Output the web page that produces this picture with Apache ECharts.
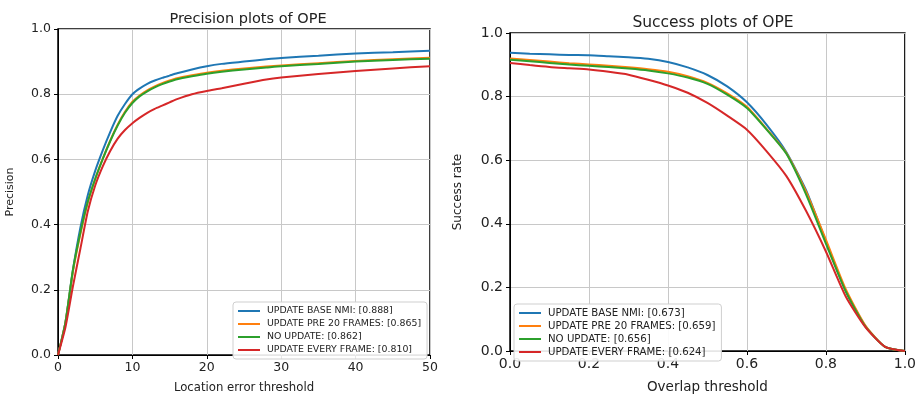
<!DOCTYPE html>
<html>
<head>
<meta charset="utf-8">
<script src="https://cdn.jsdelivr.net/npm/echarts@6/dist/echarts.min.js"></script>
<style>
html, body { margin: 0; padding: 0; background: #fff; }
#chart { width: 919px; height: 399px; }
</style>
</head>
<body>
<div id="chart"></div>
<script>
// precision plot: location error threshold (pixels)
var precThresholds = [0, 1, 2, 3, 4, 5, 6, 7, 8, 9, 10, 11, 12, 13, 14, 15, 16, 18, 20, 22, 25, 28, 30, 35, 40, 45, 50];
var precBaseNmi   = [0, 0.10, 0.26, 0.39, 0.49, 0.565, 0.627, 0.683, 0.733, 0.77, 0.80, 0.818, 0.832, 0.842, 0.85, 0.857, 0.864, 0.876, 0.886, 0.893, 0.90, 0.907, 0.911, 0.918, 0.925, 0.929, 0.933];
var precPre20     = [0, 0.10, 0.255, 0.37, 0.468, 0.54, 0.602, 0.657, 0.706, 0.746, 0.777, 0.797, 0.812, 0.824, 0.834, 0.842, 0.849, 0.858, 0.866, 0.872, 0.879, 0.885, 0.888, 0.895, 0.902, 0.907, 0.912];
var precNoUpdate  = [0, 0.10, 0.26, 0.375, 0.47, 0.54, 0.60, 0.655, 0.703, 0.743, 0.773, 0.794, 0.809, 0.821, 0.831, 0.839, 0.846, 0.855, 0.863, 0.869, 0.876, 0.882, 0.886, 0.893, 0.90, 0.905, 0.909];
var precEvery     = [0, 0.085, 0.21, 0.325, 0.44, 0.52, 0.578, 0.625, 0.663, 0.69, 0.711, 0.728, 0.743, 0.755, 0.765, 0.775, 0.785, 0.80, 0.81, 0.818, 0.832, 0.845, 0.851, 0.862, 0.871, 0.879, 0.886];

// success plot: overlap threshold
var succThresholds = [0, 0.05, 0.1, 0.15, 0.2, 0.25, 0.3, 0.35, 0.4, 0.45, 0.5, 0.55, 0.6, 0.65, 0.7, 0.75, 0.8, 0.85, 0.9, 0.95, 1.0];
var succBaseNmi   = [0.938, 0.935, 0.933, 0.931, 0.930, 0.927, 0.924, 0.919, 0.909, 0.892, 0.868, 0.832, 0.782, 0.711, 0.625, 0.505, 0.345, 0.19, 0.078, 0.013, 0];
var succPre20     = [0.920, 0.915, 0.910, 0.905, 0.901, 0.897, 0.892, 0.886, 0.878, 0.864, 0.843, 0.81, 0.768, 0.698, 0.622, 0.50, 0.35, 0.195, 0.08, 0.013, 0];
var succNoUpdate  = [0.916, 0.911, 0.906, 0.901, 0.897, 0.893, 0.888, 0.882, 0.873, 0.860, 0.840, 0.806, 0.764, 0.696, 0.620, 0.492, 0.338, 0.188, 0.077, 0.013, 0];
var succEvery     = [0.906, 0.899, 0.893, 0.889, 0.885, 0.878, 0.869, 0.853, 0.835, 0.812, 0.78, 0.74, 0.696, 0.628, 0.55, 0.44, 0.313, 0.172, 0.075, 0.013, 0];

var precNames = ['UPDATE BASE NMI: [0.888]', 'UPDATE PRE 20 FRAMES: [0.865]', 'NO UPDATE: [0.862]', 'UPDATE EVERY FRAME: [0.810]'];
var succNames = ['UPDATE BASE NMI: [0.673]', 'UPDATE PRE 20 FRAMES: [0.659]', 'NO UPDATE: [0.656]', 'UPDATE EVERY FRAME: [0.624]'];
var colors = ['#1f77b4', '#ff7f0e', '#2ca02c', '#d62728'];

var FONT = 'DejaVu Sans';

function pairs(xs, ys) {
    return xs.map(function (x, i) { return [x, ys[i]]; });
}

function makeSeries(names, xs, lists, idx) {
    return names.map(function (n, i) {
        return {
            name: n,
            type: 'line',
            xAxisIndex: idx,
            yAxisIndex: idx,
            data: pairs(xs, lists[i]),
            symbol: 'none',
            smooth: 0.2,
            color: colors[i],
            lineStyle: { width: 2, color: colors[i] },
            z: 3 + i
        };
    });
}

function xAxis(idx, max, interval, name, gap, size, nameSize, fmt) {
    return {
        type: 'value', gridIndex: idx, min: 0, max: max, interval: interval,
        name: name, nameLocation: 'middle', nameGap: gap,
        nameTextStyle: { fontFamily: FONT, fontSize: nameSize, color: '#222' },
        axisLine: { show: true, lineStyle: { color: '#000', width: 1 } },
        axisTick: { show: true, length: 4, lineStyle: { color: '#000' } },
        axisLabel: { fontFamily: FONT, fontSize: size, color: '#222', margin: 6, formatter: fmt },
        splitLine: { show: true, lineStyle: { color: '#c8c8c8', width: 1 } }
    };
}

function yAxis(idx, name, gap, size, nameSize) {
    return {
        type: 'value', gridIndex: idx, min: 0, max: 1, interval: 0.2,
        name: name, nameLocation: 'middle', nameGap: gap,
        nameTextStyle: { fontFamily: FONT, fontSize: nameSize, color: '#222' },
        axisLine: { show: true, lineStyle: { color: '#000', width: 1 } },
        axisTick: { show: true, length: 4, lineStyle: { color: '#000' } },
        axisLabel: { fontFamily: FONT, fontSize: size, color: '#222', margin: 7,
            formatter: function (v) { return v.toFixed(1); } },
        splitLine: { show: true, lineStyle: { color: '#c8c8c8', width: 1 } }
    };
}

function legend(names, left, top, size) {
    return {
        data: names, orient: 'vertical', left: left, top: top,
        itemGap: 3, itemWidth: 22, itemHeight: 2, icon: 'rect',
        padding: [4, 6, 4, 5],
        backgroundColor: 'rgba(255,255,255,0.9)',
        borderColor: '#cfcfcf', borderWidth: 1, borderRadius: 3,
        textStyle: { fontFamily: FONT, fontSize: size, lineHeight: 10, color: '#222', padding: [0, 0, 0, 2] }
    };
}

var chart = echarts.init(document.getElementById('chart'));

var option = {
    animation: false,
    backgroundColor: '#fff',
    title: [
        { text: 'Precision plots of OPE', left: 243, top: 7, textAlign: 'center',
          textStyle: { fontFamily: FONT, fontSize: 14.5, fontWeight: 'normal', color: '#222' } },
        { text: 'Success plots of OPE', left: 708, top: 10, textAlign: 'center',
          textStyle: { fontFamily: FONT, fontSize: 15.5, fontWeight: 'normal', color: '#222' } }
    ],
    legend: [
        legend(precNames, 233, 302, 9.4),
        legend(succNames, 514, 304, 10.2)
    ],
    grid: [
        { left: 58, top: 29, width: 372, height: 330, show: true, borderColor: '#000', borderWidth: 1.5 },
        { left: 510, top: 33, width: 398, height: 330, show: true, borderColor: '#000', borderWidth: 1.5 }
    ],
    xAxis: [
        xAxis(0, 50, 10, 'Location error threshold', 27, 12.5, 11.7, function (v) { return v; }),
        xAxis(1, 1, 0.2, 'Overlap threshold', 29, 14, 13.5, function (v) { return v.toFixed(1); })
    ],
    yAxis: [
        yAxis(0, 'Precision', 42, 12.5, 11),
        yAxis(1, 'Success rate', 46, 14, 12)
    ],
    series: makeSeries(precNames, precThresholds, [precBaseNmi, precPre20, precNoUpdate, precEvery], 0)
        .concat(makeSeries(succNames, succThresholds, [succBaseNmi, succPre20, succNoUpdate, succEvery], 1))
};

chart.setOption(option);
window.addEventListener('resize', chart.resize);
</script>
</body>
</html>
